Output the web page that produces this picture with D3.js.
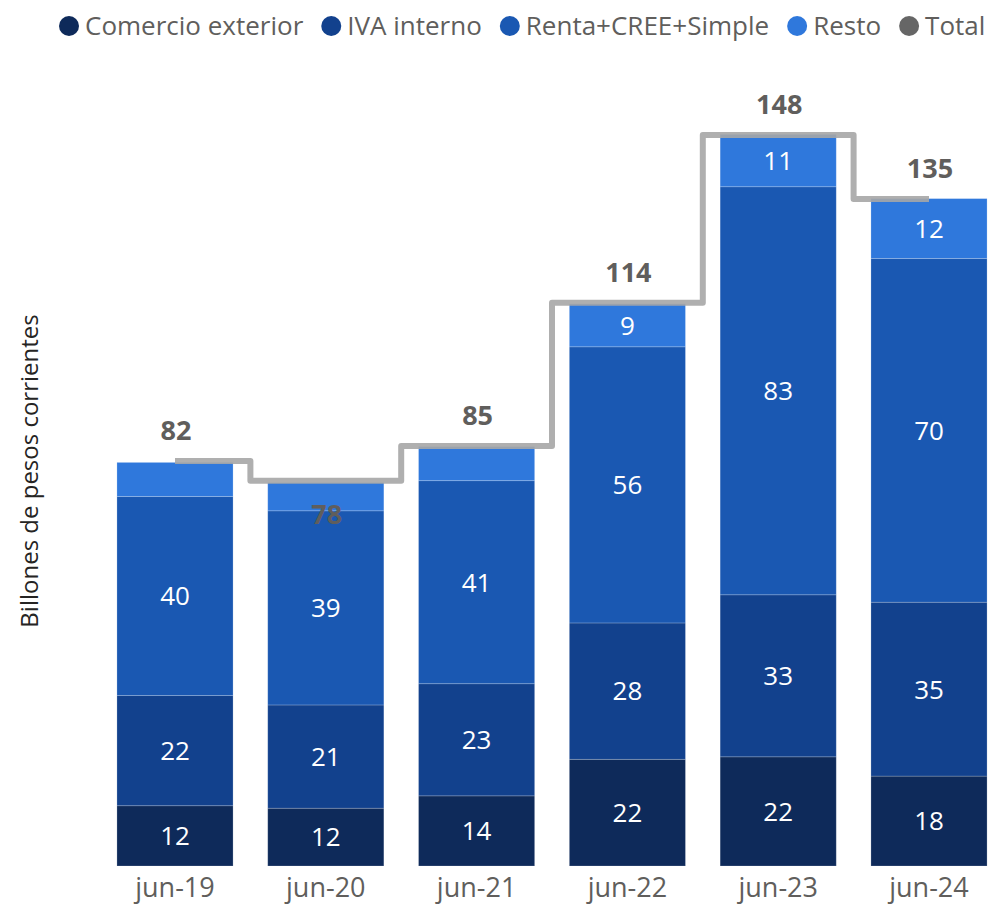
<!DOCTYPE html>
<html>
<head>
<meta charset="utf-8">
<script src="https://cdn.jsdelivr.net/npm/d3@7"></script>
<style>
  html, body { margin: 0; padding: 0; background: #fff; }
  svg { display: block; }
  text { font-family: "Open Sans", "Noto Sans", sans-serif; }
</style>
</head>
<body>
<svg id="chart" width="1001" height="910"></svg>
<script>
// ---- data ----
const categories = ["jun-19", "jun-20", "jun-21", "jun-22", "jun-23", "jun-24"];
const seriesNames = ["Comercio exterior", "IVA interno", "Renta+CREE+Simple", "Resto"];
const comercioExterior = [12.2, 11.7, 14.2, 21.6, 22.1, 18.2];
const ivaInterno       = [22.3, 20.9, 22.7, 27.6, 32.8, 35.2];
const rentaCreeSimple  = [40.3, 39.3, 41.1, 55.9, 82.6, 69.6];
const resto            = [6.9, 5.7, 6.9, 8.7, 10.6, 12.1];
const totals           = [82, 78, 85, 114, 148, 135];
const totalName = "Total";
const yAxisTitle = "Billones de pesos corrientes";

// ---- style config ----
const colors = ["#0e2a5a", "#12418d", "#1a58b2", "#2f78dc"];
const totalColor = "#666666";
const totalLabelBelow = [false, true, false, false, false, false];

const svg = d3.select("#chart");
const baseY = 866;

const x = d3.scaleBand()
  .domain(categories)
  .range([99.6, 1004.4])
  .paddingInner(0.23)
  .paddingOuter(0.115);

const y = d3.scaleLinear().domain([0, 150]).range([baseY, baseY - 150 * 4.94]);

const seriesArrays = [comercioExterior, ivaInterno, rentaCreeSimple, resto];
const table = categories.map((c, i) => {
  const row = { cat: c };
  seriesNames.forEach((s, k) => row[s] = seriesArrays[k][i]);
  return row;
});
const stacked = d3.stack().keys(seriesNames)(table);

// bars
const layers = svg.append("g").selectAll("g")
  .data(stacked).join("g")
  .attr("fill", (d, i) => colors[i]);

layers.selectAll("rect")
  .data(d => d).join("rect")
  .attr("x", d => x(d.data.cat))
  .attr("width", x.bandwidth())
  .attr("y", d => y(d[1]))
  .attr("height", d => y(d[0]) - y(d[1]))
  .attr("stroke", "rgba(255,255,255,0.25)")
  .attr("stroke-width", 0.8);

// segment labels
layers.selectAll("text")
  .data(d => d.filter(p => (y(p[0]) - y(p[1])) > 40)).join("text")
  .attr("x", d => x(d.data.cat) + x.bandwidth() / 2)
  .attr("y", d => (y(d[0]) + y(d[1])) / 2)
  .attr("dy", "0.36em")
  .attr("text-anchor", "middle")
  .attr("fill", "#ffffff")
  .attr("font-size", 26)
  .text(d => Math.round(d[1] - d[0]));

// total step line
const line = d3.line()
  .x((d, i) => x(categories[i]) + x.bandwidth() / 2)
  .y(d => y(d))
  .curve(d3.curveStep);

svg.append("path")
  .datum(totals)
  .attr("d", line)
  .attr("fill", "none")
  .attr("stroke", "#a6a6a6")
  .attr("stroke-opacity", 0.9)
  .attr("stroke-width", 6)
  .attr("stroke-linejoin", "round");

// total labels
svg.append("g").selectAll("text")
  .data(totals).join("text")
  .attr("x", (d, i) => x(categories[i]) + x.bandwidth() / 2 + 1)
  .attr("y", (d, i) => totalLabelBelow[i] ? y(d) + 34 : y(d) - 31)
  .attr("dy", "0.36em")
  .attr("text-anchor", "middle")
  .attr("fill", "#605e5c")
  .attr("font-weight", "bold")
  .attr("font-size", 27)
  .text(d => d);

// x axis labels
const xAxis = svg.append("g")
  .attr("transform", `translate(0,${baseY})`)
  .call(d3.axisBottom(x).tickSize(0).tickPadding(12));
xAxis.select(".domain").remove();
xAxis.selectAll("text")
  .attr("font-size", 27)
  .attr("fill", "#605e5c")
  .attr("font-family", "'Open Sans', 'Noto Sans', sans-serif");

// y axis title
svg.append("text")
  .attr("transform", "translate(30,471) rotate(-90)")
  .attr("text-anchor", "middle")
  .attr("dy", "0.35em")
  .attr("font-size", 24)
  .attr("fill", "#252423")
  .text(yAxisTitle);

// legend
const legendItems = seriesNames.map((s, i) => ({ name: s, color: colors[i] }))
  .concat([{ name: totalName, color: totalColor }]);
const legend = svg.append("g");
let lx = 69;
legendItems.forEach(item => {
  legend.append("circle").attr("cx", lx).attr("cy", 26).attr("r", 10).attr("fill", item.color);
  const t = legend.append("text")
    .attr("x", lx + 16).attr("y", 26).attr("dy", "0.36em")
    .attr("font-size", 26).attr("fill", "#605e5c")
    .text(item.name);
  lx = lx + 16 + t.node().getComputedTextLength() + 28;
});
</script>
</body>
</html>
